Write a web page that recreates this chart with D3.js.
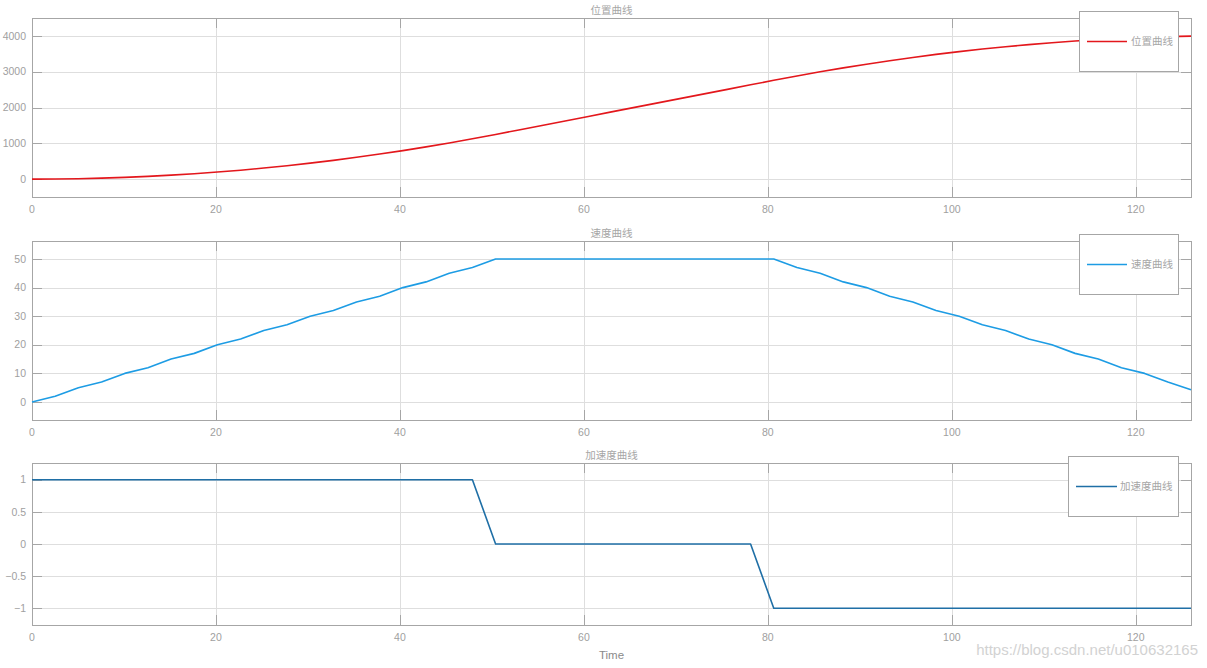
<!DOCTYPE html>
<html>
<head>
<meta charset="utf-8">
<script src="https://cdn.jsdelivr.net/npm/d3@7"></script>
<style>
  html, body { margin: 0; padding: 0; background: #ffffff; }
  svg { display: block; }
</style>
</head>
<body>
<svg id="chart" width="1207" height="668"></svg>
<script>
// ---------------- data ----------------
const time = [0, 2.52, 5.04, 7.56, 10.08, 12.6, 15.12, 17.64, 20.16, 22.68, 25.2, 27.72, 30.24, 32.76,
  35.28, 37.8, 40.32, 42.84, 45.36, 47.88, 50.4, 52.92, 55.44, 57.96, 60.48, 63, 65.52, 68.04, 70.56,
  73.08, 75.6, 78.12, 80.64, 83.16, 85.68, 88.2, 90.72, 93.24, 95.76, 98.28, 100.8, 103.32, 105.84,
  108.36, 110.88, 113.4, 115.92, 118.44, 120.96, 123.48, 126];

const position = [0, 3, 11, 26, 48, 76, 110, 150, 197, 249, 309, 374, 446, 524, 609, 699, 796, 900,
  1009, 1125, 1247, 1373, 1499, 1625, 1751, 1877, 2003, 2129, 2255, 2381, 2507, 2633, 2759, 2882,
  2998, 3107, 3210, 3308, 3398, 3483, 3561, 3633, 3698, 3757, 3810, 3857, 3897, 3931, 3959, 3980, 3995];

const velocity = [0, 2, 5, 7, 10, 12, 15, 17, 20, 22, 25, 27, 30, 32, 35, 37, 40, 42, 45, 47, 50,
  50, 50, 50, 50, 50, 50, 50, 50, 50, 50, 50, 50,
  47, 45, 42, 40, 37, 35, 32, 30, 27, 25, 22, 20, 17, 15, 12, 10, 7, 4.3];

const acceleration = [
  1, 1, 1, 1, 1, 1, 1, 1, 1, 1,
  1, 1, 1, 1, 1, 1, 1, 1, 1, 1,
  0, 0, 0, 0, 0, 0, 0, 0, 0, 0,
  0, 0, -1, -1, -1, -1, -1, -1, -1, -1,
  -1, -1, -1, -1, -1, -1, -1, -1, -1, -1,
  -1];

const xTicks = [0, 20, 40, 60, 80, 100, 120];
const posTicks = [0, 1000, 2000, 3000, 4000];
const velTicks = [0, 10, 20, 30, 40, 50];
const accTicks = [-1, -0.5, 0, 0.5, 1];

const titles = ["位置曲线", "速度曲线", "加速度曲线"];
const xLabel = "Time";
const watermark = "https://blog.csdn.net/u010632165";

// ---------------- drawing ----------------
const svg = d3.select("#chart");
const LEFT = 32, RIGHT = 1191;
const tickFont = "'Liberation Sans', Arial, Helvetica, sans-serif";
const cjkFont = "'Noto Sans CJK SC', 'Liberation Sans', sans-serif";

const x = d3.scaleLinear().domain([0, 126]).range([LEFT, RIGHT]);

const panels = [
  { title: titles[0], values: position, yDomain: [-500, 4500], ticks: posTicks, top: 18, bottom: 197,
    color: "#e3171c", legend: { x0: 1079, x1: 1178, y0: 11.5, y1: 71.5, lx0: 1087, lx1: 1127, tx: 1131 } },
  { title: titles[1], values: velocity, yDomain: [-6.3, 56.3], ticks: velTicks, top: 241, bottom: 420,
    color: "#1d9ce4", legend: { x0: 1079, x1: 1178, y0: 234.5, y1: 294.5, lx0: 1087, lx1: 1127, tx: 1131 } },
  { title: titles[2], values: acceleration, yDomain: [-1.26, 1.26], ticks: accTicks, top: 463, bottom: 625,
    color: "#1f6fa6", legend: { x0: 1068, x1: 1178, y0: 456.5, y1: 516.5, lx0: 1076, lx1: 1117, tx: 1120 } }
];

panels.forEach((p) => {
  const y = d3.scaleLinear().domain(p.yDomain).range([p.bottom, p.top]);
  const g = svg.append("g");

  // grid
  g.selectAll(".vgrid").data(xTicks).join("line")
    .attr("x1", d => Math.round(x(d)) + 0.5).attr("x2", d => Math.round(x(d)) + 0.5)
    .attr("y1", p.top).attr("y2", p.bottom)
    .attr("stroke", "#dedede").attr("stroke-width", 1);
  g.selectAll(".hgrid").data(p.ticks).join("line")
    .attr("x1", LEFT).attr("x2", RIGHT)
    .attr("y1", d => Math.round(y(d)) + 0.5).attr("y2", d => Math.round(y(d)) + 0.5)
    .attr("stroke", "#dedede").attr("stroke-width", 1);

  // box
  g.append("rect")
    .attr("x", LEFT + 0.5).attr("y", p.top + 0.5)
    .attr("width", RIGHT - LEFT).attr("height", p.bottom - p.top)
    .attr("fill", "none").attr("stroke", "#a6a6a6").attr("stroke-width", 1);

  // inward ticks on all sides
  const tl = 10;
  g.selectAll(".ytl").data(p.ticks).join("line")
    .attr("x1", LEFT).attr("x2", LEFT + tl)
    .attr("y1", d => Math.round(y(d)) + 0.5).attr("y2", d => Math.round(y(d)) + 0.5)
    .attr("stroke", "#a6a6a6");
  g.selectAll(".ytr").data(p.ticks).join("line")
    .attr("x1", RIGHT - tl).attr("x2", RIGHT)
    .attr("y1", d => Math.round(y(d)) + 0.5).attr("y2", d => Math.round(y(d)) + 0.5)
    .attr("stroke", "#a6a6a6");
  g.selectAll(".xtb").data(xTicks).join("line")
    .attr("x1", d => Math.round(x(d)) + 0.5).attr("x2", d => Math.round(x(d)) + 0.5)
    .attr("y1", p.bottom - tl).attr("y2", p.bottom)
    .attr("stroke", "#a6a6a6");
  g.selectAll(".xtt").data(xTicks).join("line")
    .attr("x1", d => Math.round(x(d)) + 0.5).attr("x2", d => Math.round(x(d)) + 0.5)
    .attr("y1", p.top).attr("y2", p.top + tl)
    .attr("stroke", "#a6a6a6");

  // data line (on top of grid, box and ticks)
  const line = d3.line().x((d, i) => x(time[i])).y(d => y(d));
  g.append("path").datum(p.values)
    .attr("d", line).attr("fill", "none")
    .attr("stroke", p.color).attr("stroke-width", 1.6)
    .attr("stroke-linejoin", "round");

  // tick labels
  g.selectAll(".ylab").data(p.ticks).join("text")
    .attr("x", 26).attr("y", d => y(d)).attr("dy", "0.35em")
    .attr("text-anchor", "end")
    .attr("font-family", tickFont).attr("font-size", 10.5).attr("fill", "#a0a0a0")
    .text(d => d3.format("")(d));
  g.selectAll(".xlab").data(xTicks).join("text")
    .attr("x", d => x(d)).attr("y", p.bottom + 12).attr("dy", "0.35em")
    .attr("text-anchor", "middle")
    .attr("font-family", tickFont).attr("font-size", 10.5).attr("fill", "#a0a0a0")
    .text(d => d);

  // title
  g.append("text")
    .attr("x", (LEFT + RIGHT) / 2).attr("y", p.top - 8).attr("dy", "0.35em")
    .attr("text-anchor", "middle")
    .attr("font-family", cjkFont).attr("font-size", 10.5).attr("fill", "#a6a6a6")
    .text(p.title);

  // legend
  const L = p.legend;
  g.append("rect")
    .attr("x", L.x0 + 0.5).attr("y", L.y0).attr("width", L.x1 - L.x0).attr("height", L.y1 - L.y0)
    .attr("fill", "#ffffff").attr("stroke", "#a6a6a6");
  const ly = (L.y0 + L.y1) / 2;
  g.append("line")
    .attr("x1", L.lx0).attr("x2", L.lx1).attr("y1", ly).attr("y2", ly)
    .attr("stroke", p.color).attr("stroke-width", 1.6);
  g.append("text")
    .attr("x", L.tx).attr("y", ly).attr("dy", "0.35em")
    .attr("font-family", cjkFont).attr("font-size", 10.5).attr("fill", "#a6a6a6")
    .text(p.title);
});

// x label
svg.append("text")
  .attr("x", (LEFT + RIGHT) / 2).attr("y", 655).attr("dy", "0.35em")
  .attr("text-anchor", "middle")
  .attr("font-family", tickFont).attr("font-size", 11.5).attr("fill", "#8a8a8a")
  .text(xLabel);

// watermark
svg.append("text")
  .attr("x", 1198).attr("y", 650).attr("dy", "0.35em")
  .attr("text-anchor", "end")
  .attr("font-family", tickFont).attr("font-size", 15).attr("fill", "#d2d2d2")
  .text(watermark);
</script>
</body>
</html>
